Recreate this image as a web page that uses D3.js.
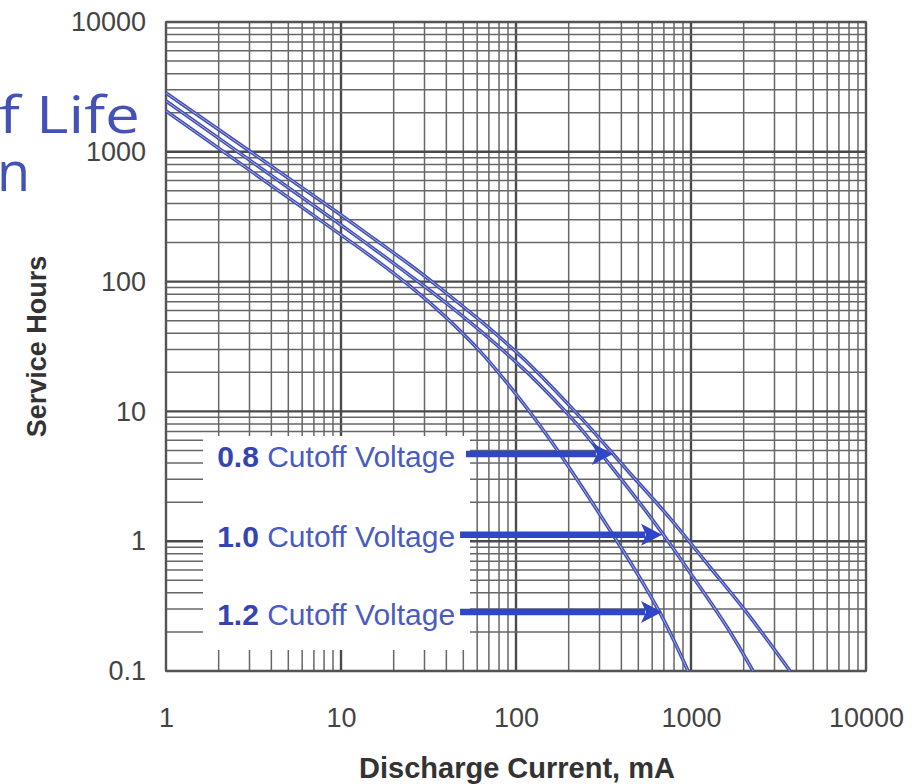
<!DOCTYPE html>
<html>
<head>
<meta charset="utf-8">
<script src="https://cdn.jsdelivr.net/npm/d3@7"></script>
<style>
  html, body { margin: 0; padding: 0; background: #fff; }
  #graph { width: 921px; height: 784px; overflow: hidden; }
</style>
</head>
<body>
<div id="graph"></div>
<script>
// service hours vs discharge current, log-log
// values

var xTicks = [1, 10, 100, 1000, 10000];
var yTicks = [0.1, 1, 10, 100, 1000, 10000];

// [mA, hours]
var cutoff08 = [[1, 2840], [10, 326], [15.8, 209], [25.1, 133], [39.8, 82], [63.1, 49.5], [100, 28.8], [120, 22.9], [241, 8.6], [431, 3.54], [759, 1.5], [1284, 0.63], [2089, 0.28], [3680, 0.1]];
var cutoff10 = [[1, 2460], [10, 273], [15.8, 174.6], [25.1, 110], [39.8, 68.5], [63.1, 41.3], [100, 24], [120, 19.1], [212, 8.6], [378, 3.3], [665, 1.22], [1027, 0.53], [1606, 0.218], [2261, 0.1]];
var cutoff12 = [[1, 2060], [10, 229], [15.8, 147], [25.1, 91], [39.8, 53], [63.1, 28.5], [100, 13.6], [120, 9.9], [163, 5.6], [344, 1.22], [532, 0.476], [665, 0.28], [810, 0.165], [961, 0.1]];

var labelVolts = ["0.8", "1.0", "1.2"];
var arrowHours = [4.7, 1.12, 0.285];
var arrowFrom = [51.8, 47.9, 47.9];
var arrowTo = [358, 683, 683];

var width = 921;
var height = 784;
var plotLeft = 166, plotRight = 866, plotTop = 22, plotBottom = 671;

var svg = d3.select("#graph").
append("svg").
attr("width", width).
attr("height", height);

var xScale = d3.scaleLog().
domain([1, 10000]).
range([plotLeft, plotRight]);

var yScale = d3.scaleLog().
domain([0.1, 10000]).
range([plotBottom, plotTop]);

// slide title peeking out behind the picture
svg.append("text").
text("f Life").
attr("x", -1).
attr("y", 133).
attr("textLength", 141).
attr("lengthAdjust", "spacingAndGlyphs").
style("font-family", "Open Sans").
style("font-size", 52).
style("fill", "#4352b4");

svg.append("text").
text("n").
attr("x", -3).
attr("y", 191).
style("font-family", "Open Sans").
style("font-size", 54).
style("fill", "#4352b4");

// grid
var xGrid = [];
[1, 10, 100, 1000].forEach(function (d) {
   for (var k = 1; k < 10; k++) xGrid.push(d * k);
});
xGrid.push(10000);

var yGrid = [];
[0.1, 1, 10, 100, 1000].forEach(function (d) {
   for (var k = 1; k < 10; k++) yGrid.push(+(d * k).toPrecision(3));
});
yGrid.push(10000);

function isMajor(v) {
   var l = Math.log10(v);
   return Math.abs(l - Math.round(l)) < 1e-6;
}

var grid = svg.append("g").attr("id", "grid");

grid.selectAll("line.vx").
data(xGrid).
enter().
append("line").
attr("class", "vx").
attr("x1", function (d) {return xScale(d);}).
attr("x2", function (d) {return xScale(d);}).
attr("y1", plotTop).
attr("y2", plotBottom).
attr("stroke", function (d) {return isMajor(d) ? "#4a4a4a" : "#666";}).
attr("stroke-width", function (d) {return isMajor(d) ? 2.4 : 1.5;});

grid.selectAll("line.hy").
data(yGrid).
enter().
append("line").
attr("class", "hy").
attr("x1", plotLeft).
attr("x2", plotRight).
attr("y1", function (d) {return yScale(d);}).
attr("y2", function (d) {return yScale(d);}).
attr("stroke", function (d) {return isMajor(d) ? "#4a4a4a" : "#666";}).
attr("stroke-width", function (d) {return isMajor(d) ? 2.4 : 1.5;});

// white panel behind the legend, leaves grid stubs on left and bottom
svg.append("rect").
attr("x", 203).
attr("y", 436).
attr("width", 470 - 203).
attr("height", 650 - 436).
attr("fill", "#fff");

svg.append("rect").
attr("x", plotLeft).
attr("y", plotTop).
attr("width", plotRight - plotLeft).
attr("height", plotBottom - plotTop).
attr("fill", "none").
attr("stroke", "#555").
attr("stroke-width", 1.8);

// curves
var line = d3.line().
x(function (d) {return xScale(d[0]);}).
y(function (d) {return yScale(d[1]);}).
curve(d3.curveCatmullRom.alpha(0.5));

var curves = svg.append("g").attr("id", "curves");
[cutoff08, cutoff10, cutoff12].forEach(function (series) {
   curves.append("path").
   attr("d", line(series)).
   attr("fill", "none").
   attr("stroke", "#4250b2").
   attr("stroke-width", 3.6);
   curves.append("path").
   attr("d", line(series)).
   attr("fill", "none").
   attr("stroke", "#b4b9e6").
   attr("stroke-width", 0.9);
});

// arrows + labels
var head = 21, half = 11;
labelVolts.forEach(function (v, i) {
   var yy = yScale(arrowHours[i]);
   var x0 = xScale(arrowFrom[i]);
   var x1 = xScale(arrowTo[i]);

   svg.append("line").
   attr("x1", x0).
   attr("x2", x1 - head + 4).
   attr("y1", yy).
   attr("y2", yy).
   attr("stroke", "#2f47c6").
   attr("stroke-width", 6.5);

   svg.append("path").
   attr("d", "M" + x1 + "," + yy + "L" + (x1 - head) + "," + (yy - half) + "L" + (x1 - head + 5) + "," + yy + "L" + (x1 - head) + "," + (yy + half) + "Z").
   attr("fill", "#2f47c6");

   var t = svg.append("text").
   attr("x", xScale(1.96)).
   attr("y", yy).
   attr("dy", "0.42em").
   style("font-family", "Liberation Sans, Arial, sans-serif").
   style("font-size", 30).
   style("fill", "#4a5bc2");
   t.append("tspan").
   style("font-weight", "bold").
   style("fill", "#3445b0").
   text(v);
   t.append("tspan").
   text(" Cutoff Voltage");
});

// axes
var xAxis = d3.axisBottom(xScale).
tickValues(xTicks).
tickSize(0).
tickPadding(37).
tickFormat(function (d) {return String(d);});

var yAxis = d3.axisLeft(yScale).
tickValues(yTicks).
tickSize(0).
tickPadding(20).
tickFormat(function (d) {return String(d);});

var gx = svg.append("g").
attr("id", "x-axis").
attr("transform", "translate(0," + plotBottom + ")").
call(xAxis);

var gy = svg.append("g").
attr("id", "y-axis").
attr("transform", "translate(" + plotLeft + ",0)").
call(yAxis);

[gx, gy].forEach(function (g) {
   g.select(".domain").remove();
   g.selectAll("text").
   style("font-family", "Liberation Sans, Arial, sans-serif").
   style("font-size", 27).
   style("fill", "#444");
});

svg.append("text").
attr("x", (plotLeft + plotRight) / 2 + 1).
attr("y", 778).
style("text-anchor", "middle").
style("font-family", "Liberation Sans, Arial, sans-serif").
style("font-weight", "bold").
style("font-size", 29).
style("fill", "#333").
text("Discharge Current, mA");

svg.append("text").
attr("transform", "translate(46," + (plotTop + plotBottom) / 2 + ") rotate(-90)").
style("text-anchor", "middle").
style("font-family", "Liberation Sans, Arial, sans-serif").
style("font-weight", "bold").
style("font-size", 27).
style("fill", "#333").
text("Service Hours");
</script>
</body>
</html>
